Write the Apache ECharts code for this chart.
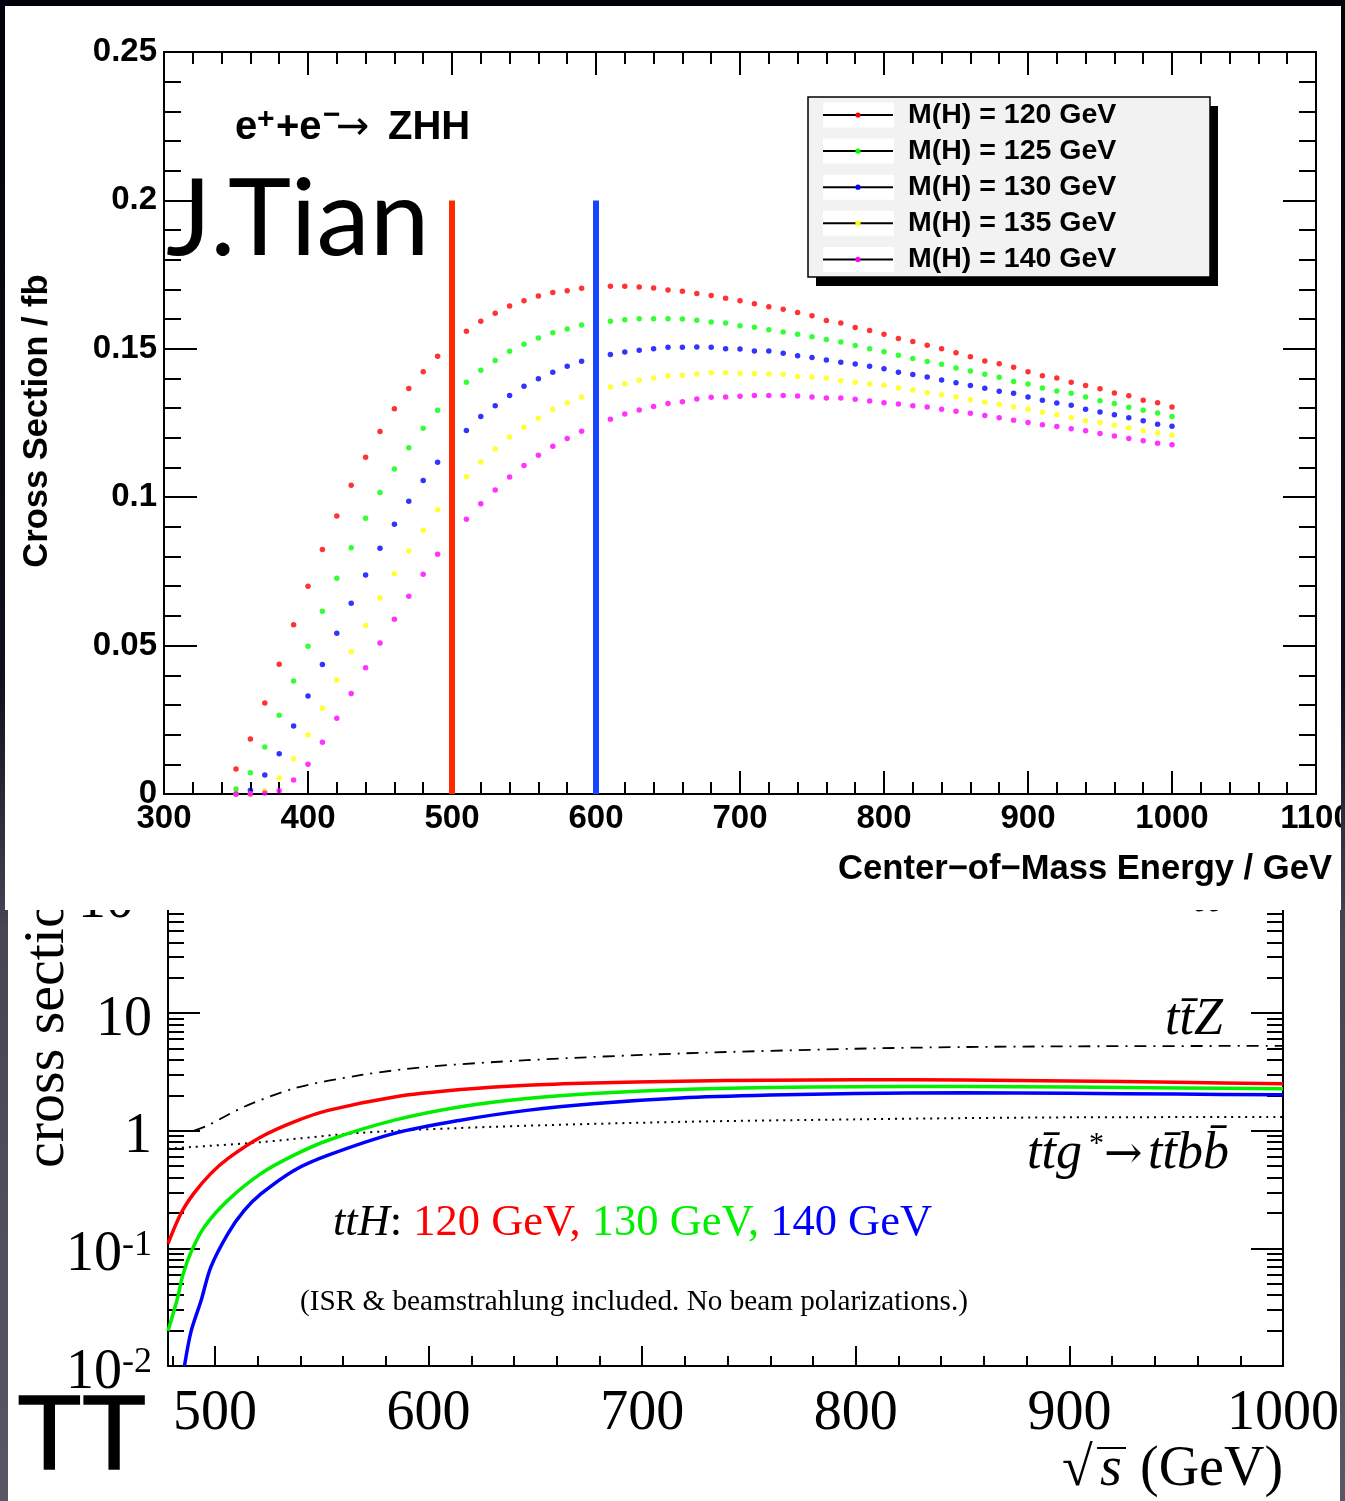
<!DOCTYPE html>
<html><head><meta charset="utf-8">
<script src="https://cdn.jsdelivr.net/npm/echarts@6/dist/echarts.min.js"></script>
<style>
html,body{margin:0;padding:0;width:1345px;height:1501px;overflow:hidden;}
body{position:relative;background:linear-gradient(to bottom,#02020b 0%,#10101c 45%,#454553 62%,#575765 100%);}
#top{position:absolute;left:5px;top:6px;width:1336px;height:904px;background:#fff;z-index:2;}
#bot{position:absolute;left:8px;top:860px;width:1332px;height:641px;background:#fff;z-index:1;}
</style></head><body>
<div id="bot"></div><div id="top"></div>
<script>
// ---------------- TOP CHART DATA (e+e- -> ZHH) ----------------
const energy = [350,360,370,380,390,400,410,420,430,440,
  450,460,470,480,490,500,510,520,530,540,
  550,560,570,580,590,600,610,620,630,640,
  650,660,670,680,690,700,710,720,730,740,
  750,760,770,780,790,800,810,820,830,840,
  850,860,870,880,890,900,910,920,930,940,
  950,960,970,980,990,1000];
const mh120 = [0.0084,0.0185,0.0307,0.0437,0.0570,0.0700,0.0824,0.0937,0.1040,0.1135,
  0.1221,0.1298,0.1366,0.1423,0.1475,0.1520,0.1559,0.1593,0.1620,0.1644,
  0.1662,0.1678,0.1690,0.1696,0.1704,0.1708,0.1711,0.1711,0.1708,0.1705,
  0.1698,0.1694,0.1686,0.1680,0.1670,0.1662,0.1652,0.1642,0.1633,0.1622,
  0.1611,0.1595,0.1587,0.1572,0.1562,0.1549,0.1535,0.1525,0.1512,0.1500,
  0.1487,0.1473,0.1459,0.1450,0.1438,0.1423,0.1409,0.1402,0.1387,0.1376,
  0.1365,0.1351,0.1342,0.1327,0.1318,0.1304];
const mh125 = [0.0017,0.0072,0.0158,0.0265,0.0381,0.0498,0.0616,0.0727,0.0830,0.0929,
  0.1016,0.1095,0.1167,0.1232,0.1293,0.1343,0.1387,0.1428,0.1461,0.1492,
  0.1515,0.1536,0.1554,0.1567,0.1580,0.1589,0.1593,0.1598,0.1601,0.1601,
  0.1601,0.1600,0.1596,0.1590,0.1587,0.1578,0.1573,0.1564,0.1557,0.1549,
  0.1541,0.1531,0.1523,0.1511,0.1500,0.1490,0.1478,0.1467,0.1457,0.1448,
  0.1435,0.1425,0.1414,0.1404,0.1390,0.1381,0.1368,0.1358,0.1350,0.1338,
  0.1325,0.1316,0.1303,0.1293,0.1284,0.1272];
const mh130 = [0,0.0013,0.0064,0.0136,0.0229,0.0330,0.0436,0.0542,0.0643,0.0738,
  0.0828,0.0909,0.0986,0.1056,0.1118,0.1174,0.1225,0.1272,0.1308,0.1343,
  0.1374,0.1399,0.1421,0.1441,0.1458,0.1470,0.1481,0.1489,0.1495,0.1500,
  0.1505,0.1505,0.1506,0.1505,0.1500,0.1499,0.1493,0.1493,0.1485,0.1477,
  0.1471,0.1462,0.1455,0.1449,0.1441,0.1433,0.1421,0.1413,0.1405,0.1395,
  0.1386,0.1376,0.1367,0.1357,0.1350,0.1338,0.1327,0.1317,0.1310,0.1296,
  0.1287,0.1278,0.1268,0.1258,0.1246,0.1239];
const mh135 = [0,0,0.0011,0.0054,0.0119,0.0199,0.0289,0.0384,0.0480,0.0568,
  0.0660,0.0742,0.0819,0.0889,0.0958,0.1016,0.1069,0.1119,0.1162,0.1203,
  0.1236,0.1266,0.1296,0.1317,0.1338,0.1355,0.1371,0.1382,0.1394,0.1402,
  0.1409,0.1411,0.1415,0.1419,0.1419,0.1418,0.1417,0.1415,0.1414,0.1407,
  0.1405,0.1402,0.1392,0.1387,0.1381,0.1377,0.1368,0.1361,0.1352,0.1345,
  0.1338,0.1328,0.1320,0.1312,0.1304,0.1296,0.1286,0.1278,0.1268,0.1258,
  0.1252,0.1242,0.1234,0.1224,0.1216,0.1209];
const mh140 = [0,0,0.0003,0.0011,0.0047,0.0100,0.0174,0.0255,0.0339,0.0425,
  0.0509,0.0589,0.0666,0.0740,0.0808,0.0870,0.0926,0.0978,0.1024,0.1068,
  0.1107,0.1141,0.1172,0.1198,0.1222,0.1240,0.1263,0.1280,0.1294,0.1306,
  0.1316,0.1322,0.1331,0.1337,0.1338,0.1340,0.1343,0.1343,0.1343,0.1341,
  0.1338,0.1334,0.1334,0.1330,0.1324,0.1318,0.1314,0.1308,0.1304,0.1296,
  0.1290,0.1283,0.1275,0.1268,0.1259,0.1252,0.1244,0.1238,0.1231,0.1224,
  0.1215,0.1206,0.1198,0.1190,0.1182,0.1177];
const topSeriesNames = ['M(H) = 120 GeV','M(H) = 125 GeV','M(H) = 130 GeV','M(H) = 135 GeV','M(H) = 140 GeV'];
const topSeriesColors = ['#ff0000','#00ff00','#0000ff','#ffff00','#ff00ff'];
const markEnergies = [500, 600];
const markColors = ['#ff2a00','#1744ff'];

// ---------------- BOTTOM CHART DATA (ttH etc.) ----------------
const tth120 = [[478,0.11],[484,0.197],[490,0.292],[498,0.432],[506,0.58],[521.5,0.885],[537,1.19],[553,1.49],[584,1.94],[615,2.24],[646,2.44],[677,2.55],[718,2.64],[760,2.69],[800,2.71],[850,2.70],[900,2.65],[950,2.58],[1000,2.51]];
const tth130 = [[478,0.0198],[482.5,0.038],[485,0.060],[489,0.095],[495,0.152],[506,0.256],[521.5,0.432],[537,0.62],[553,0.83],[584,1.23],[615,1.6],[646,1.88],[677,2.07],[718,2.24],[760,2.33],[800,2.37],[850,2.38],[900,2.35],[950,2.31],[1000,2.27]];
const tth140 = [[485.7,0.01],[488.8,0.0197],[493.5,0.036],[498,0.069],[506,0.133],[513.7,0.21],[521.5,0.29],[537,0.46],[553,0.62],[584,0.95],[615,1.23],[646,1.49],[677,1.70],[718,1.90],[760,2.01],[800,2.07],[850,2.10],[900,2.08],[950,2.05],[1000,2.02]];
const ttz = [[490,1.0],[496.6,1.11],[513.7,1.6],[537,2.29],[568,2.97],[599,3.49],[646,3.98],[718,4.54],[800,4.98],[850,5.15],[900,5.22],[1000,5.27]];
const ttbb = [[478,0.705],[521.5,0.80],[568,0.96],[630,1.08],[718,1.19],[800,1.25],[850,1.28],[900,1.30],[1000,1.31]];
const botXMajor = [500,600,700,800,900,1000];
const botXMinor = [480,520,540,560,580,620,640,660,680,720,740,760,780,820,840,860,880,920,940,960,980];
const botYMinor = [0.02,0.03,0.04,0.05,0.06,0.07,0.08,0.09,0.2,0.3,0.4,0.5,0.6,0.7,0.8,0.9,2,3,4,5,6,7,8,9,20,30,40,50,60,70,80,90];

(function(){
// ================= TOP CHART =================
const TX = 5, TY = 6;
const chartTop = echarts.init(document.getElementById('top'), null, {renderer:'canvas'});
const blk = {color:'#000', width:2};
const sansB = '"Liberation Sans", Arial, sans-serif';
function topX(pos, showLabel){
  return {type:'value', min:300, max:1100, interval:100, position:pos,
    axisLine:{show:true, onZero:false, lineStyle:blk},
    axisTick:{show:true, inside:true, length:23, lineStyle:blk},
    minorTick:{show:true, splitNumber:5, length:12, lineStyle:blk},
    splitLine:{show:false}, minorSplitLine:{show:false},
    axisLabel:{show:showLabel, fontFamily:sansB, fontWeight:'bold', fontSize:33, color:'#000', margin:8,
      formatter:v=>String(v)}};
}
function topY(pos, showLabel){
  return {type:'value', min:0, max:0.25, interval:0.05, position:pos,
    axisLine:{show:true, onZero:false, lineStyle:blk},
    axisTick:{show:true, inside:true, length:33, lineStyle:blk},
    minorTick:{show:true, splitNumber:5, length:17, lineStyle:blk},
    splitLine:{show:false}, minorSplitLine:{show:false},
    axisLabel:{show:showLabel, fontFamily:sansB, fontWeight:'bold', fontSize:33, color:'#000', margin:7,
      formatter:v=>String(Math.round(v*100)/100)}};
}
const mh = [mh120, mh125, mh130, mh135, mh140];
const topSeries = mh.map((arr,k)=>({
  type:'scatter', name:topSeriesNames[k], symbol:'circle', symbolSize:5.5,
  itemStyle:{color:topSeriesColors[k]}, z:3+k*0.01,
  data: energy.map((e,i)=>[e, arr[i]])
}));
topSeries.push({type:'line', data:[], z:10,
  markLine:{silent:true, symbol:'none', label:{show:false}, animation:false,
    data: markEnergies.map((e,k)=>[{coord:[e,0], lineStyle:{color:markColors[k], width:6, type:'solid'}},{coord:[e,0.2]}])}});

const legG = [];
legG.push({type:'rect', shape:{x:816-TX, y:106-TY, width:402, height:180}, style:{fill:'#000'}, z:20});
legG.push({type:'rect', shape:{x:808-TX, y:97-TY, width:402, height:180}, style:{fill:'#f2f2f2', stroke:'#000', lineWidth:1.5}, z:21});
topSeriesNames.forEach((nm,k)=>{
  const cy = 115 + k*36.1 - TY;
  legG.push({type:'rect', shape:{x:823-TX, y:cy-12.5, width:71, height:25}, style:{fill:'#fff'}, z:22});
  legG.push({type:'line', shape:{x1:823-TX, y1:cy, x2:893-TX, y2:cy}, style:{stroke:'#000', lineWidth:2}, z:23});
  legG.push({type:'circle', shape:{cx:858-TX, cy:cy, r:2.6}, style:{fill:topSeriesColors[k]}, z:24});
  legG.push({type:'text', x:908-TX, y:cy, style:{text:nm, font:'bold 28.5px '+sansB, fill:'#000', align:'left', verticalAlign:'middle', textAlign:'left', textVerticalAlign:'middle'}, z:24});
});
function T(txt, x, y, font, extra){
  const st = {text:txt, font:font, fill:'#000', align:'left', verticalAlign:'middle', textAlign:'left', textVerticalAlign:'middle'};
  if (extra) Object.assign(st, extra);
  return {type:'text', x:x, y:y, z:30, style:st};
}
const topG = legG.concat([
  T('e', 235-TX, 128-TY, 'bold 40px '+sansB),
  T('+', 257-TX, 120-TY, 'bold 30px '+sansB),
  T('+e', 276-TX, 128-TY, 'bold 40px '+sansB),
  T('\u2212', 323-TX, 116-TY, 'bold 30px '+sansB),
  T('\u2192', 336-TX, 129-TY, '40px "DejaVu Sans", sans-serif'),
  T('ZHH', 388-TX, 128-TY, 'bold 40px '+sansB),
  T('J.Tian', 166-TX, 220-TY, '107px Lato, "Open Sans", sans-serif'),
  T('Center\u2212of\u2212Mass Energy / GeV', 1332-TX, 869-TY, 'bold 34.6px '+sansB, {align:'right', textAlign:'right'}),
  Object.assign(T('Cross Section / fb', 37-TX, 421-TY, 'bold 34.5px '+sansB, {align:'center', textAlign:'center'}), {rotation:Math.PI/2})
]);
chartTop.setOption({
  animation:false,
  grid:{left:164-TX, top:52-TY, width:1152, height:742, containLabel:false, outerBoundsMode:'none'},
  xAxis:[topX('bottom', true), topX('top', false)],
  yAxis:[topY('left', true), topY('right', false)],
  series: topSeries,
  graphic: topG
});

// ================= BOTTOM CHART =================
const BX = 8, BY = 860;
const chartBot = echarts.init(document.getElementById('bot'), null, {renderer:'canvas'});
const serif = '"Liberation Serif", "Times New Roman", serif';
function botX(custom, len, showLine, showLabel){
  return {type:'value', min:478, max:1000, position:'bottom',
    axisLine:{show:showLine, onZero:false, lineStyle:blk},
    axisTick:{show:true, inside:true, length:len, customValues:custom, lineStyle:blk},
    splitLine:{show:false},
    axisLabel:{show:showLabel, customValues:botXMajor, fontFamily:serif, fontSize:56, color:'#000', margin:20,
      formatter:v=>String(v)}};
}
function botY(pos, minor, showLabel){
  const o = {type:'log', logBase:10, min:0.01, max:100, position:pos,
    axisLine:{show:!minor, onZero:false, lineStyle:blk},
    axisTick:{show:true, inside:true, length: minor?16:32, lineStyle:blk},
    splitLine:{show:false},
    axisLabel:{show:showLabel, fontFamily:serif, fontSize:56, color:'#000', margin:16, padding:[14,0,0,0],
      formatter:v=>{const p=Math.round(Math.log10(v)); return p===0?'1':p===1?'10':'10{sup|'+(p<0?'-':'')+Math.abs(p)+'}';},
      rich:{sup:{fontFamily:serif, fontSize:36, color:'#000', verticalAlign:'top', lineHeight:56}}}};
  if (minor) o.axisTick.customValues = botYMinor;
  return o;
}
const lineS = (data, color, w, type, z) => ({type:'line', data:data, smooth:0.3, showSymbol:false, symbol:'none',
  lineStyle:{color:color, width:w, type:type}, z:z, xAxisIndex:0, yAxisIndex:0});
const botG = [
  T('tt\u0304Z', 1165-BX, 1020-BY, 'italic 52px '+serif),
  T('tt\u0304', 1192-BX, 897-BY, 'italic 52px '+serif),
  T('tt\u0304g', 1027-BX, 1154-BY, 'italic 52px '+serif),
  T('*', 1089-BX, 1144-BY, '30px '+serif),
  T('\u2192', 1104-BX, 1156-BY, '46px "DejaVu Serif", serif'),
  T('tt\u0304bb\u0304', 1148-BX, 1154-BY, 'italic 52px '+serif),
  {type:'text', x:333-BX, y:1223-BY, z:30, style:{text:'{i|ttH}{k|:}{r| 120 GeV,}{g| 130 GeV,}{b| 140 GeV}', align:'left', verticalAlign:'middle', textAlign:'left', textVerticalAlign:'middle',
    rich:{i:{fontFamily:serif, fontStyle:'italic', fontSize:44.5, fill:'#000', color:'#000'},
          k:{fontFamily:serif, fontSize:44.5, fill:'#000', color:'#000'},
          r:{fontFamily:serif, fontSize:44.5, fill:'#ff0000', color:'#ff0000'},
          g:{fontFamily:serif, fontSize:44.5, fill:'#00ee00', color:'#00ee00'},
          b:{fontFamily:serif, fontSize:44.5, fill:'#0000ff', color:'#0000ff'}}}},
  T('(ISR & beamstrahlung included. No beam polarizations.)', 300-BX, 1302-BY, '29.2px '+serif),
  T('\u221A', 1062-BX, 1470-BY, '56px '+serif),
  T('s', 1100-BX, 1470-BY, 'italic 56px '+serif),
  T('(GeV)', 1140-BX, 1470-BY, '56px '+serif),
  {type:'line', z:30, shape:{x1:1097-BX, y1:1448-BY, x2:1126-BX, y2:1448-BY}, style:{stroke:'#000', lineWidth:2}},
  T('TT', 17-BX, 1440-BY, '106px "Liberation Sans", Arial, sans-serif', {stroke:'#000', lineWidth:1.5}),
  Object.assign(T('cross section (fb)', 48-BX, 1168-BY, '58px '+serif), {rotation:Math.PI/2})
];
chartBot.setOption({
  animation:false,
  grid:{left:168-BX, top:895.5-BY, width:1115, height:470.5, containLabel:false, outerBoundsMode:'none'},
  xAxis:[botX(botXMajor, 20, true, true), botX(botXMinor, 10, false, false)],
  yAxis:[botY('left', false, true), botY('left', true, false), botY('right', false, false), botY('right', true, false)],
  series:[
    lineS(ttz, '#000', 1.8, [12,7,2,7], 3),
    lineS(ttbb, '#000', 2, [2,5], 3),
    lineS(tth140, '#0000ff', 3.5, 'solid', 4),
    lineS(tth130, '#00ee00', 3.5, 'solid', 5),
    lineS(tth120, '#ff0000', 3.5, 'solid', 6)
  ],
  graphic: botG
});
})();
</script></body></html>
